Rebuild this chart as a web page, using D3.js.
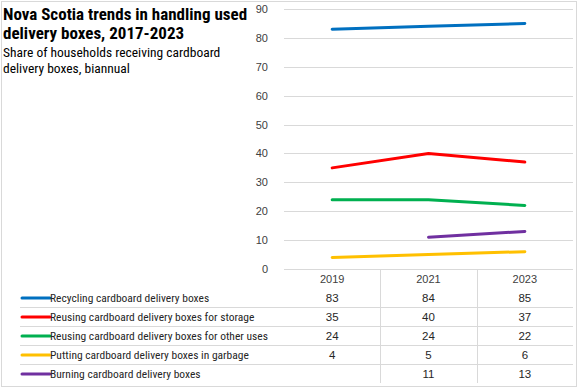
<!DOCTYPE html>
<html>
<head>
<meta charset="utf-8">
<script src="https://cdn.jsdelivr.net/npm/d3@7"></script>
<style>
  body { margin: 0; background: #fff; }
  svg { display: block; }
</style>
</head>
<body>
<div id="viz"></div>
<script>
const width = 580;
const height = 388;

// Data
const years = ['2019', '2021', '2023'];
const seriesNames = [
  'Recycling cardboard delivery boxes',
  'Reusing cardboard delivery boxes for storage',
  'Reusing cardboard delivery boxes for other uses',
  'Putting cardboard delivery boxes in garbage',
  'Burning cardboard delivery boxes'
];
const recycling = [83, 84, 85];
const reuseStorage = [35, 40, 37];
const reuseOther = [24, 24, 22];
const garbage = [4, 5, 6];
const burning = [null, 11, 13];
const yTicks = [0, 10, 20, 30, 40, 50, 60, 70, 80, 90];
const colors = ['#0070C0', '#FF0000', '#00B050', '#FFC000', '#7030A0'];

const allSeries = [recycling, reuseStorage, reuseOther, garbage, burning];

const plot = {left: 284, right: 573, top: 9, bottom: 269};
const rowH = 19;
const narrow = '"Liberation Sans Narrow", "Arial Narrow", "Roboto Condensed", sans-serif';
const plain = '"Liberation Sans", Arial, sans-serif';

const svg = d3.select('#viz')
  .append('svg')
    .attr('width', width)
    .attr('height', height);

// chart border
svg.append('rect')
  .attr('x', 1.5).attr('y', 1.5)
  .attr('width', 575).attr('height', 385)
  .attr('fill', '#fff')
  .attr('stroke', '#d9d9d9');

const xScale = d3.scaleBand()
  .domain(years)
  .range([plot.left, plot.right]);

const yScale = d3.scaleLinear()
  .domain([0, 90])
  .range([plot.bottom, plot.top]);

// gridlines
svg.append('g')
  .selectAll('line')
  .data(yTicks)
  .join('line')
    .attr('x1', plot.left)
    .attr('x2', plot.right)
    .attr('y1', d => Math.round(yScale(d)) + 0.5)
    .attr('y2', d => Math.round(yScale(d)) + 0.5)
    .attr('stroke', '#d9d9d9')
    .attr('stroke-width', 1);

// y axis labels
const yAxis = d3.axisLeft(yScale)
  .tickValues(yTicks)
  .tickSize(0)
  .tickPadding(16);
const yAxisGroup = svg.append('g')
  .attr('transform', `translate(${plot.left}, 0)`)
  .call(yAxis);
yAxisGroup.select('.domain').remove();
yAxisGroup.selectAll('text')
  .style('font-family', plain)
  .style('font-size', '11px')
  .attr('fill', '#404040');

// lines
const lineGen = d3.line()
  .defined(d => d != null)
  .x((d, i) => xScale(years[i]) + xScale.bandwidth() / 2)
  .y(d => yScale(d));

svg.append('g')
  .selectAll('path')
  .data(allSeries)
  .join('path')
    .attr('d', d => lineGen(d))
    .attr('fill', 'none')
    .attr('stroke', (d, i) => colors[i])
    .attr('stroke-width', 3)
    .attr('stroke-linecap', 'round')
    .attr('stroke-linejoin', 'round');

// data table
const table = svg.append('g');
const tableTop = plot.bottom;

// vertical separators
table.selectAll('line.vsep')
  .data(years.slice(1))
  .join('line')
    .attr('class', 'vsep')
    .attr('x1', d => Math.round(xScale(d)) + 0.5)
    .attr('x2', d => Math.round(xScale(d)) + 0.5)
    .attr('y1', tableTop)
    .attr('y2', tableTop + rowH * 6)
    .attr('stroke', '#d9d9d9');

// horizontal separators
table.selectAll('line.hsep')
  .data(d3.range(2, 6))
  .join('line')
    .attr('class', 'hsep')
    .attr('x1', 20)
    .attr('x2', plot.right)
    .attr('y1', k => tableTop + rowH * k + 0.5)
    .attr('y2', k => tableTop + rowH * k + 0.5)
    .attr('stroke', '#d9d9d9');

// year headers
table.selectAll('text.year')
  .data(years)
  .join('text')
    .attr('class', 'year')
    .attr('x', d => xScale(d) + xScale.bandwidth() / 2)
    .attr('y', tableTop + rowH / 2 + 4)
    .attr('text-anchor', 'middle')
    .style('font-family', plain)
    .style('font-size', '11px')
    .attr('fill', '#404040')
    .text(d => d);

const rows = table.selectAll('g.row')
  .data(allSeries)
  .join('g')
    .attr('class', 'row')
    .attr('transform', (d, i) => `translate(0, ${tableTop + rowH * (i + 1) + rowH / 2 + 0.5})`);

rows.append('line')
  .attr('x1', 22).attr('x2', 50)
  .attr('y1', 0).attr('y2', 0)
  .attr('stroke', (d, i) => colors[i])
  .attr('stroke-width', 3)
  .attr('stroke-linecap', 'round');

rows.append('text')
  .attr('x', 50)
  .attr('y', 4)
  .style('font-family', narrow)
  .style('font-size', '11.5px')
  .attr('fill', '#262626')
  .text((d, i) => seriesNames[i]);

rows.selectAll('text.val')
  .data(d => d.map((v, i) => ({v, year: years[i]})))
  .join('text')
    .attr('class', 'val')
    .attr('x', d => xScale(d.year) + xScale.bandwidth() / 2)
    .attr('y', 4)
    .attr('text-anchor', 'middle')
    .style('font-family', plain)
    .style('font-size', '11.5px')
    .attr('fill', '#262626')
    .text(d => d.v == null ? '' : d.v);

// titles
const titleLines = ['Nova Scotia trends in handling used', 'delivery boxes, 2017-2023'];
svg.append('g')
  .selectAll('text')
  .data(titleLines)
  .join('text')
    .attr('x', 3)
    .attr('y', (d, i) => 20 + i * 19)
    .style('font-family', narrow)
    .style('font-size', '17px')
    .style('font-weight', 700)
    .attr('fill', '#000')
    .text(d => d);

const subLines = ['Share of households receiving cardboard', 'delivery boxes, biannual'];
svg.append('g')
  .selectAll('text')
  .data(subLines)
  .join('text')
    .attr('x', 3)
    .attr('y', (d, i) => 57 + i * 16)
    .style('font-family', narrow)
    .style('font-size', '13.5px')
    .attr('fill', '#000')
    .text(d => d);
</script>
</body>
</html>
